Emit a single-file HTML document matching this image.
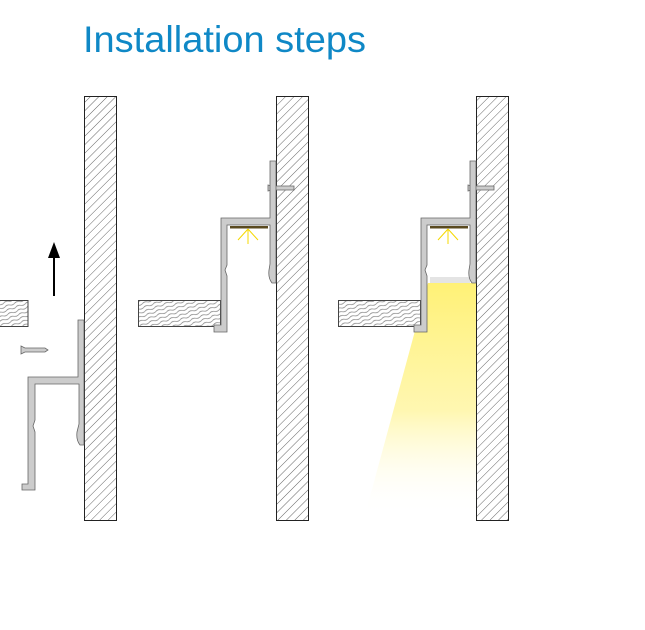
<!DOCTYPE html>
<html><head><style>body{margin:0;background:#fff}svg{display:block}</style></head><body>
<svg width="645" height="630" viewBox="0 0 645 630" xmlns="http://www.w3.org/2000/svg">
<defs>
<pattern id="h" width="6" height="6" patternUnits="userSpaceOnUse" patternTransform="rotate(45)">
<rect width="6" height="6" fill="#fff"/><line x1="0" y1="0" x2="0" y2="6" stroke="#555" stroke-width="0.9"/></pattern>
<pattern id="w" width="10" height="4" patternUnits="userSpaceOnUse" patternTransform="rotate(-20)">
<rect width="10" height="4" fill="#fff"/><path d="M0 2 Q2.5 0.5 5 2 T10 2" stroke="#777" stroke-width="0.7" fill="none"/></pattern>
<linearGradient id="lg" x1="0" y1="0" x2="0" y2="1">
<stop offset="0" stop-color="#fff176"/><stop offset="0.55" stop-color="#fff59d" stop-opacity="0.8"/><stop offset="1" stop-color="#fff" stop-opacity="0"/></linearGradient>
</defs>
<text x="83" y="52" font-family="Liberation Sans, sans-serif" font-size="37" textLength="283" lengthAdjust="spacingAndGlyphs" fill="#0f88c6">Installation steps</text>

<rect x="84.5" y="96.5" width="32" height="424" fill="url(#h)" stroke="#222"/>
<rect x="276.5" y="96.5" width="32" height="424" fill="url(#h)" stroke="#222"/>
<rect x="476.5" y="96.5" width="32" height="424" fill="url(#h)" stroke="#222"/>

<rect x="-1" y="300.5" width="29" height="26" fill="url(#w)" stroke="#444"/>
<line x1="54" y1="296" x2="54" y2="256" stroke="#000" stroke-width="2"/>
<polygon points="54,242 48,258 60,258" fill="#000"/>
<g fill="#ccc" stroke="#666" stroke-width="0.8">
<path d="M21 346 L25 348 L45 348 L48 350 L45 352 L25 352 L21 354 Z"/>
<path d="M78 320 L84 320 L84 445 L80 445 Q76 440 77 432 L79 424 L79 384 L35 384 L35 420 L33 426 L35 432 L35 490 L22 490 L22 484 L28 484 L28 377 L78 377 Z"/>
</g>

<rect x="138.5" y="300.5" width="82" height="26" fill="url(#w)" stroke="#444"/>
<g fill="#ccc" stroke="#666" stroke-width="0.8">
<path d="M268 185 L272 186 L294 186 L294 190 L272 190 L268 191 Z"/>
<path d="M270 161 L276 161 L276 283 L272 283 Q268 278 269 270 L270 264 L270 225 L227 225 L227 265 L225 270 L227 276 L227 332 L214 332 L214 325 L221 325 L221 218 L270 218 Z"/>
</g>
<rect x="230" y="226" width="38" height="2.5" fill="#5a4a20"/>
<g stroke="#f5d800" stroke-width="1"><line x1="248" y1="229" x2="248" y2="244"/><line x1="248" y1="229" x2="238" y2="240"/><line x1="248" y1="229" x2="258" y2="240"/></g>

<polygon points="428,283 476,283 476,515 365,515" fill="url(#lg)"/>
<rect x="430" y="277" width="40" height="6" fill="#e4e4e4"/>
<rect x="338.5" y="300.5" width="82" height="26" fill="url(#w)" stroke="#444"/>
<g fill="#ccc" stroke="#666" stroke-width="0.8">
<path d="M468 185 L472 186 L494 186 L494 190 L472 190 L468 191 Z"/>
<path d="M470 161 L476 161 L476 283 L472 283 Q468 278 469 270 L470 264 L470 225 L427 225 L427 265 L425 270 L427 276 L427 332 L414 332 L414 325 L421 325 L421 218 L470 218 Z"/>
</g>
<rect x="430" y="226" width="38" height="2.5" fill="#5a4a20"/>
<g stroke="#f5d800" stroke-width="1"><line x1="448" y1="229" x2="448" y2="244"/><line x1="448" y1="229" x2="438" y2="240"/><line x1="448" y1="229" x2="458" y2="240"/></g>
</svg>
</body></html>
